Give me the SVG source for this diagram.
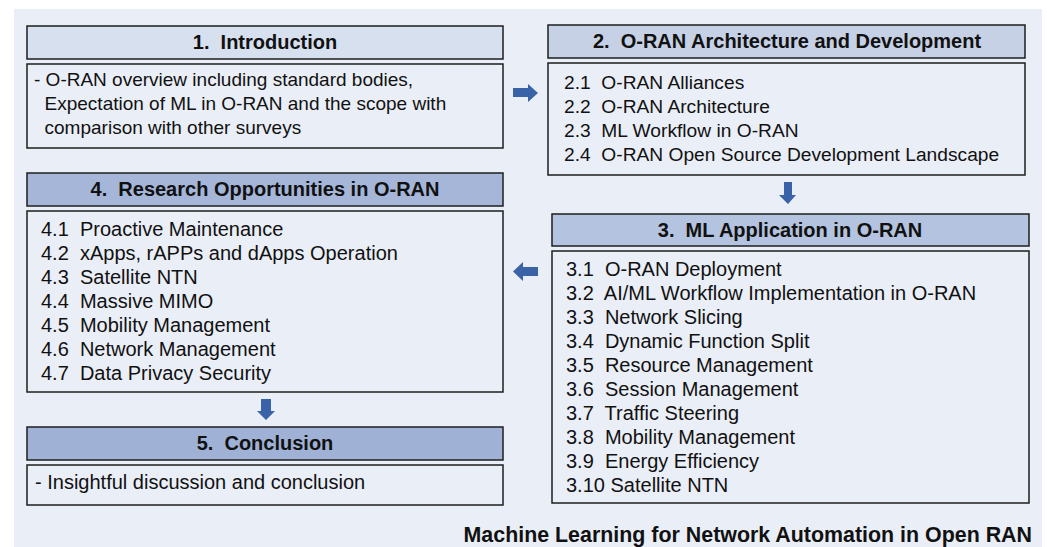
<svg xmlns="http://www.w3.org/2000/svg" width="1047" height="547" viewBox="0 0 1047 547">
<style>
text{font-family:"Liberation Sans",Arial,sans-serif;fill:#111;white-space:pre}
.h{font-size:20px;font-weight:bold;text-anchor:middle}
.b1{font-size:19px}
.b2{font-size:19.2px}
.b{font-size:20px}
.t{font-size:21.4px;font-weight:bold;text-anchor:end}
.box{fill:#eaeef7;stroke:#1e1e1e;stroke-width:1.5}
.hd{stroke:#1e1e1e;stroke-width:1.5}
.arr{fill:#3a62a6}
</style>
<rect x="0" y="0" width="1047" height="547" fill="#ffffff"/>
<rect x="14" y="9" width="1028" height="538" fill="#eaeef7"/>
<g id="node1">
<rect class="hd" x="27" y="26" width="476" height="33" fill="#d7e0ef"/>
<text class="h" x="265" y="49">1.  Introduction</text>
<rect class="box" x="27" y="64" width="476" height="84"/>
<text class="b1" x="34" y="86">- O-RAN overview including standard bodies,</text>
<text class="b1" x="34" y="110">  Expectation of ML in O-RAN and the scope with</text>
<text class="b1" x="34" y="134">  comparison with other surveys</text>
</g>
<g id="node2">
<rect class="hd" x="548" y="25" width="477" height="33" fill="#c6d1e6"/>
<text class="h" x="787" y="48">2.  O-RAN Architecture and Development</text>
<rect class="box" x="548" y="63" width="477" height="112"/>
<text class="b2" x="564" y="89">2.1  O-RAN Alliances</text>
<text class="b2" x="564" y="113">2.2  O-RAN Architecture</text>
<text class="b2" x="564" y="137">2.3  ML Workflow in O-RAN</text>
<text class="b2" x="564" y="161">2.4  O-RAN Open Source Development Landscape</text>
</g>
<g id="node3">
<rect class="hd" x="552" y="214" width="477" height="32" fill="#b4c3df"/>
<text class="h" x="790" y="237">3.  ML Application in O-RAN</text>
<rect class="box" x="552" y="251" width="477" height="252"/>
<text class="b" x="566" y="276">3.1  O-RAN Deployment</text>
<text class="b" x="566" y="300">3.2  AI/ML Workflow Implementation in O-RAN</text>
<text class="b" x="566" y="324">3.3  Network Slicing</text>
<text class="b" x="566" y="348">3.4  Dynamic Function Split</text>
<text class="b" x="566" y="372">3.5  Resource Management</text>
<text class="b" x="566" y="396">3.6  Session Management</text>
<text class="b" x="566" y="420">3.7  Traffic Steering</text>
<text class="b" x="566" y="444">3.8  Mobility Management</text>
<text class="b" x="566" y="468">3.9  Energy Efficiency</text>
<text class="b" x="566" y="492">3.10 Satellite NTN</text>
</g>
<g id="node4">
<rect class="hd" x="27" y="173" width="476" height="33" fill="#a5b6d9"/>
<text class="h" x="265" y="196">4.  Research Opportunities in O-RAN</text>
<rect class="box" x="27" y="211" width="476" height="181"/>
<text class="b" x="41" y="236">4.1  Proactive Maintenance</text>
<text class="b" x="41" y="260">4.2  xApps, rAPPs and dApps Operation</text>
<text class="b" x="41" y="284">4.3  Satellite NTN</text>
<text class="b" x="41" y="308">4.4  Massive MIMO</text>
<text class="b" x="41" y="332">4.5  Mobility Management</text>
<text class="b" x="41" y="356">4.6  Network Management</text>
<text class="b" x="41" y="380">4.7  Data Privacy Security</text>
</g>
<g id="node5">
<rect class="hd" x="27" y="427" width="476" height="33" fill="#9fb2d5"/>
<text class="h" x="265" y="450">5.  Conclusion</text>
<rect class="box" x="27" y="465" width="476" height="40"/>
<text class="b" x="35" y="489">- Insightful discussion and conclusion</text>
</g>
<g id="connectors">
<polygon class="arr" points="513,88 528,88 528,84 538,93 528,102 528,97 513,97"/>
<polygon class="arr" points="784,182 792,182 792,195 796,195 788,204 779,195 784,195"/>
<polygon class="arr" points="538,267 523,267 523,262 513,271.5 523,281 523,276 538,276"/>
<polygon class="arr" points="261,399 271,399 271,411 275,411 266,420 257,411 261,411"/>
</g>
<text class="t" x="1032" y="542">Machine Learning for Network Automation in Open RAN</text>
</svg>
